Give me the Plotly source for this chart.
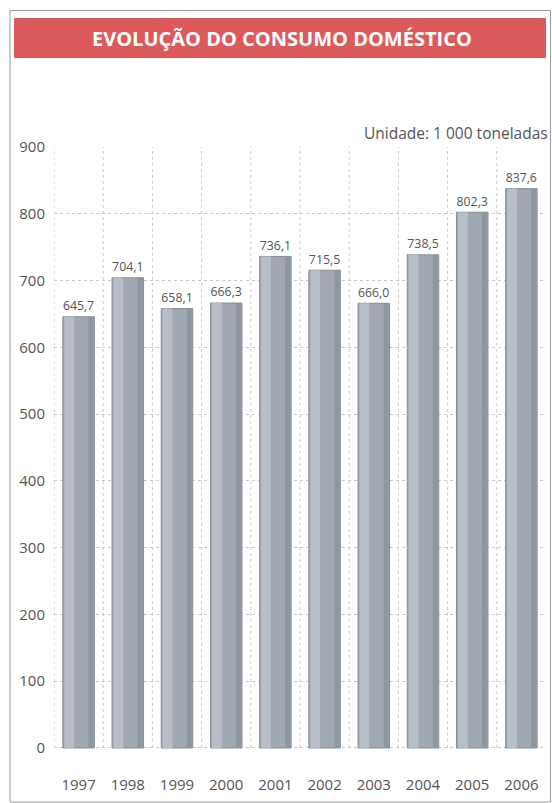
import plotly.graph_objects as go

# Consumo doméstico (1 000 toneladas)
anos = ["1997", "1998", "1999", "2000", "2001", "2002", "2003", "2004", "2005", "2006"]
consumo = [645.7, 704.1, 658.1, 666.3, 736.1, 715.5, 666.0, 738.5, 802.3, 837.6]
y_ticks = [0, 100, 200, 300, 400, 500, 600, 700, 800, 900]

W, H = 552, 803
L, R, T, B = 54, 6, 147, 31
PW, PH = W - L - R, H - T - B


def px_x(p):
    return (p - L) / PW


def px_y(p):
    return 1 - (p - T) / PH


pos = list(range(len(anos)))
rotulos = [f"{v:.1f}".replace(".", ",") for v in consumo]
txt_font = dict(family="Open Sans, sans-serif", size=13.5, color="#555555")

fig = go.Figure()

# main body of each bar
fig.add_trace(go.Bar(
    x=pos, y=consumo, width=0.64,
    marker=dict(color="#a0a8b2", line=dict(color="#838c97", width=1)),
    text=rotulos, textposition="outside", textfont=txt_font,
    cliponaxis=False, hoverinfo="skip",
))
# light strip on the left side for a rounded look
fig.add_trace(go.Bar(
    x=pos, y=consumo, width=0.2, offset=-0.29,
    marker=dict(color="#b7bec7", line=dict(width=0)), hoverinfo="skip",
))
# shadow strip on the right side
fig.add_trace(go.Bar(
    x=pos, y=consumo, width=0.1, offset=0.2,
    marker=dict(color="#8d96a1", line=dict(width=0)), hoverinfo="skip",
))

shapes = []
# vertical dashed grid lines between categories
for i in range(-1, len(anos) - 1):
    shapes.append(dict(type="line", xref="x", yref="y", x0=i + 0.5, x1=i + 0.5,
                       y0=0, y1=900, line=dict(color="#c8c8c8", width=1, dash="dot"),
                       layer="below"))
# outer frame
shapes.append(dict(type="rect", xref="paper", yref="paper",
                   x0=px_x(10), x1=px_x(550.5), y0=px_y(802), y1=px_y(10.5),
                   line=dict(color="#9a9a9a", width=1), fillcolor="rgba(0,0,0,0)"))
# red header band
shapes.append(dict(type="rect", xref="paper", yref="paper",
                   x0=px_x(14), x1=px_x(546), y0=px_y(58), y1=px_y(18),
                   line=dict(width=0), fillcolor="#dd5a5c"))

annotations = [
    dict(text="<b>EVOLUÇÃO DO CONSUMO DOMÉSTICO</b>", xref="paper", yref="paper",
         x=px_x(282), y=px_y(38), showarrow=False, xanchor="center", yanchor="middle",
         font=dict(family="Open Sans, sans-serif", size=20, color="white")),
    dict(text="Unidade: 1 000 toneladas", xref="paper", yref="paper",
         x=px_x(550), y=px_y(133), showarrow=False, xanchor="right", yanchor="middle",
         font=dict(family="Open Sans, sans-serif", size=15.5, color="#555555")),
]

fig.update_layout(
    width=W, height=H,
    margin=dict(l=L, r=R, t=T, b=B, pad=0),
    paper_bgcolor="white", plot_bgcolor="white",
    barmode="overlay", showlegend=False,
    shapes=shapes, annotations=annotations,
    font=dict(family="Open Sans, sans-serif", color="#555555"),
)
fig.update_xaxes(
    range=[-0.5, 9.5], tickvals=pos, ticktext=anos, showgrid=False,
    zeroline=False, showline=False, ticks="",
    tickfont=dict(size=15, color="#555555"), ticklabelstandoff=2,
)
fig.update_yaxes(
    range=[-36, 900], tickvals=y_ticks, showgrid=True, gridcolor="#c8c8c8",
    griddash="dot", gridwidth=1, zeroline=False, showline=False, ticks="",
    tickfont=dict(size=15, color="#555555"), ticklabelstandoff=8,
)

fig.write_html("out.html")
